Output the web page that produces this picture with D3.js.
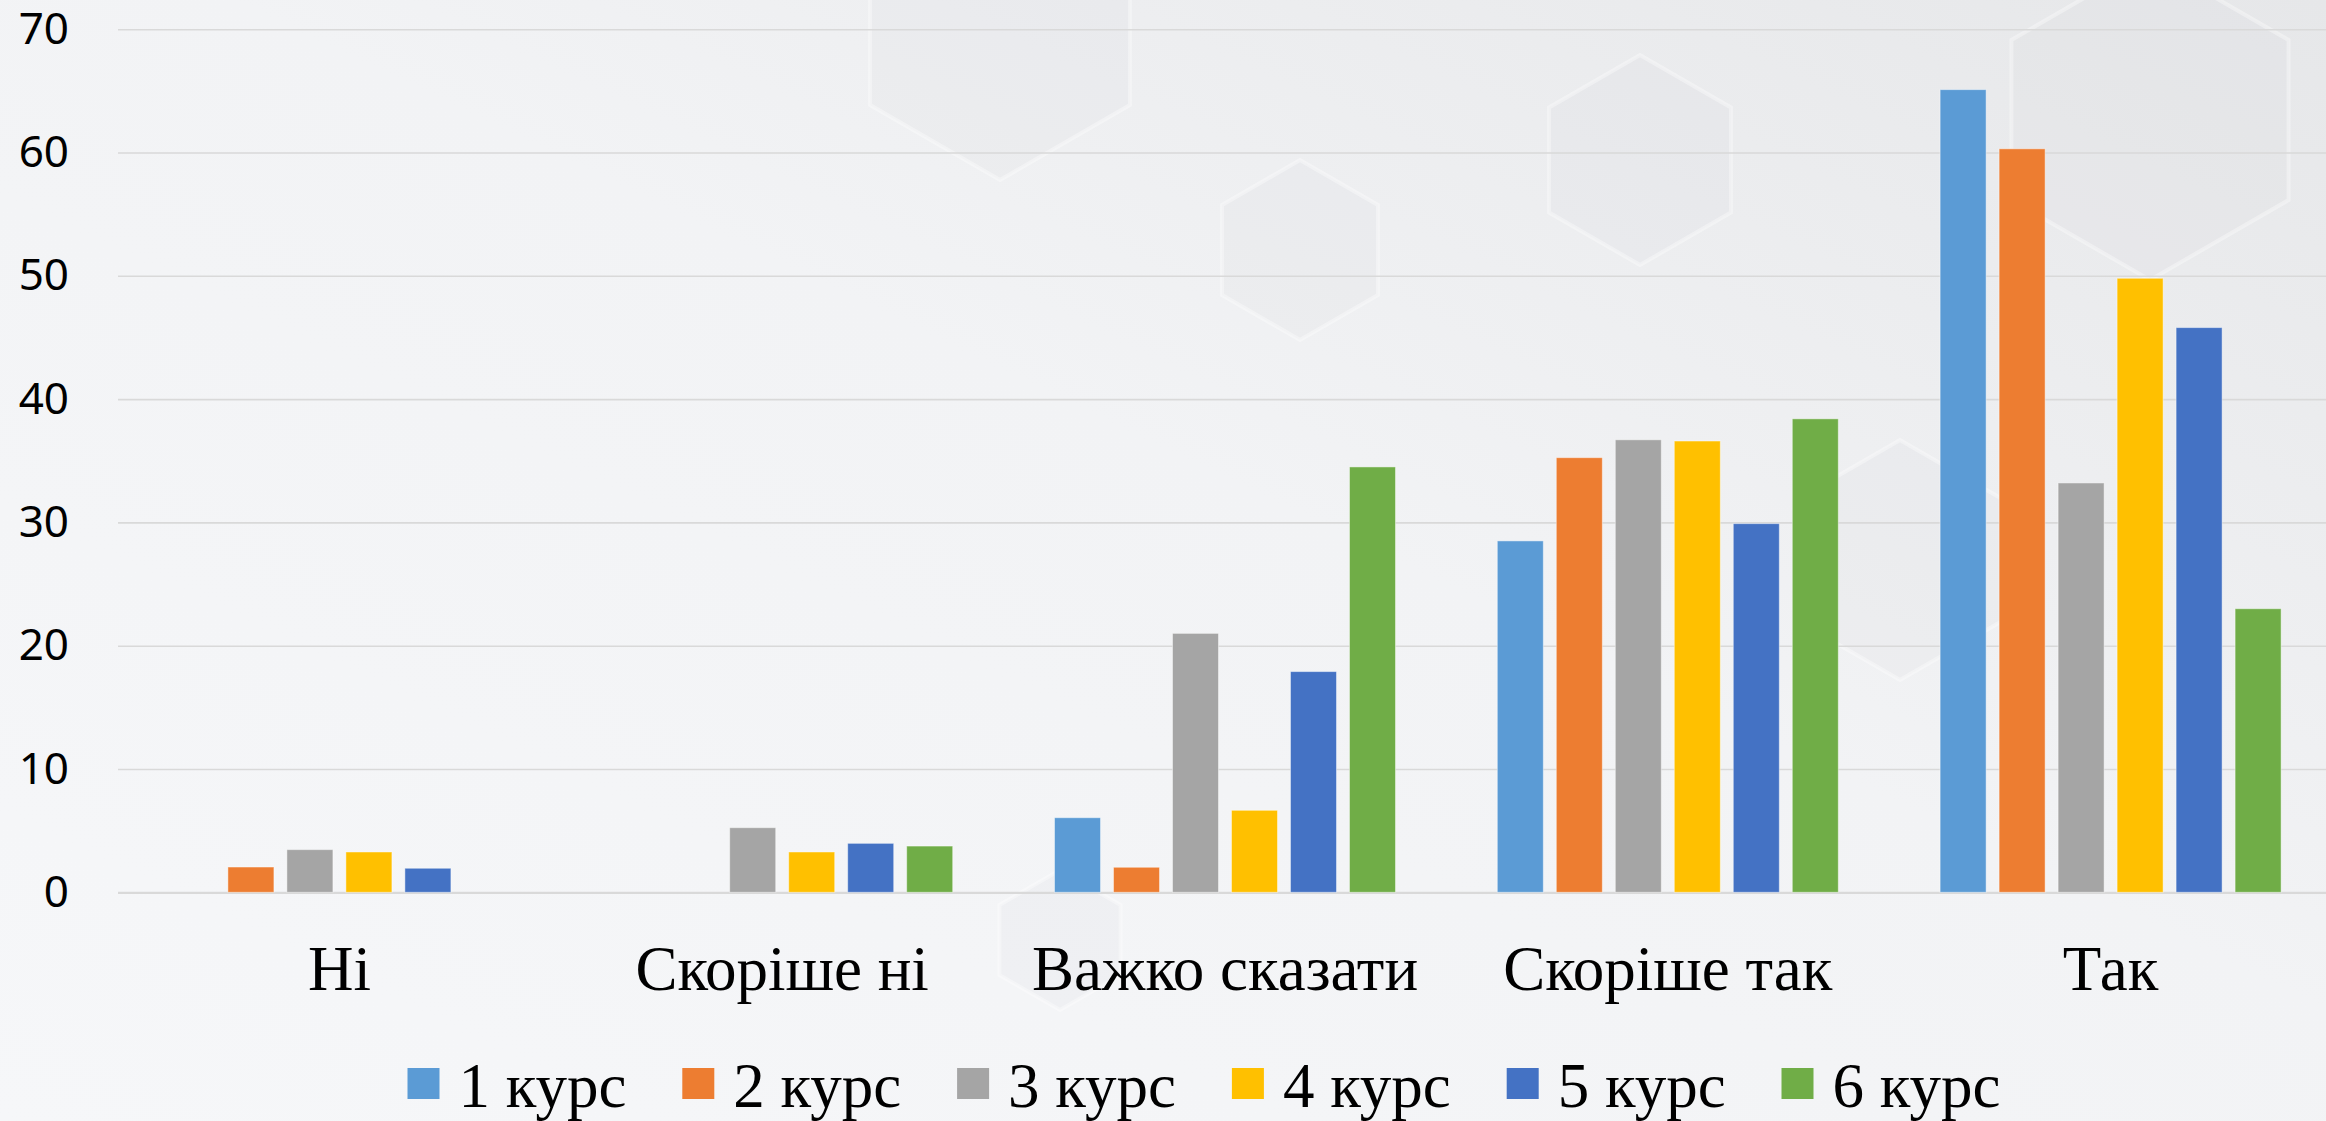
<!DOCTYPE html>
<html>
<head>
<meta charset="utf-8">
<script src="https://cdnjs.cloudflare.com/ajax/libs/d3/7.8.5/d3.min.js"></script>
<style>
    html, body { margin: 0; padding: 0; overflow: hidden; background: #f4f5f7; }
    svg { display: block; }
</style>
</head>
<body>
<svg id="chart" width="2326" height="1121"></svg>
<script>
/*global d3*/
(function () {
    "use strict";

    // data
    var categories = ["Ні", "Скоріше ні", "Важко сказати", "Скоріше так", "Так"];
    var seriesNames = ["1 курс", "2 курс", "3 курс", "4 курс", "5 курс", "6 курс"];
    var kurs1 = [0, 0, 6.05, 28.5, 65.1];
    var kurs2 = [2.05, 0, 2.03, 35.25, 60.3];
    var kurs3 = [3.46, 5.24, 21.0, 36.7, 33.2];
    var kurs4 = [3.27, 3.27, 6.65, 36.6, 49.8];
    var kurs5 = [1.95, 3.97, 17.9, 29.9, 45.8];
    var kurs6 = [0, 3.75, 34.5, 38.4, 23.0];
    var yTicks = [0, 10, 20, 30, 40, 50, 60, 70];

    var seriesValues = [kurs1, kurs2, kurs3, kurs4, kurs5, kurs6];
    var colors = ["#5b9bd5", "#ed7d31", "#a5a5a5", "#ffc000", "#4472c4", "#70ad47"];

    var W = 2326, H = 1121;
    var plot = { left: 118, right: 2332, top: 29.2, bottom: 892.3 };

    var svg = d3.select("#chart");

    // background
    var defs = svg.append("defs");
    var grad = defs.append("linearGradient")
        .attr("id", "bg").attr("x1", "0").attr("y1", "1").attr("x2", "1").attr("y2", "0");
    grad.append("stop").attr("offset", "0").attr("stop-color", "#f6f7f9");
    grad.append("stop").attr("offset", "0.55").attr("stop-color", "#f2f3f5");
    grad.append("stop").attr("offset", "1").attr("stop-color", "#e6e7e9");
    svg.append("rect").attr("width", W).attr("height", H).attr("fill", "url(#bg)");

    // faint hexagon decoration
    var hexes = [[1000, 30, 150], [1640, 160, 105], [1300, 250, 90], [2150, 120, 160], [1900, 560, 120], [1060, 940, 70]];
    var hexPath = function (cx, cy, r) {
        return d3.range(6).map(function (i) {
            var a = Math.PI / 3 * i + Math.PI / 6;
            return (i ? "L" : "M") + (cx + r * Math.cos(a)) + "," + (cy + r * Math.sin(a));
        }).join("") + "Z";
    };
    svg.append("g").selectAll("path").data(hexes).join("path")
        .attr("d", function (d) { return hexPath(d[0], d[1], d[2]); })
        .attr("fill", "#d5d6d9").attr("fill-opacity", 0.14)
        .attr("stroke", "#ffffff").attr("stroke-opacity", 0.35).attr("stroke-width", 4);

    var x0 = d3.scaleBand().domain(categories).range([plot.left, plot.right]).padding(0);
    var groupW = 341;
    var x1 = d3.scaleBand().domain(seriesNames)
        .range([(x0.bandwidth() - groupW) / 2, (x0.bandwidth() + groupW) / 2])
        .paddingInner(0.22).paddingOuter(0);
    var y = d3.scaleLinear().domain([0, 70]).range([plot.bottom, plot.top]);

    // gridlines + y labels
    var yAxis = svg.append("g")
        .attr("transform", "translate(" + plot.left + ",0)")
        .call(d3.axisLeft(y).tickValues(yTicks).tickSize(-(W - plot.left)).tickPadding(49));
    yAxis.select(".domain").remove();
    yAxis.selectAll(".tick line")
        .attr("stroke", "#d9d9d9")
        .attr("stroke-width", function (d) { return d === 0 ? 2.2 : 1.6; });
    yAxis.selectAll(".tick text")
        .attr("fill", "#000")
        .style("font-family", "'Noto Sans', 'Open Sans', sans-serif")
        .style("font-size", "44px");

    // bars
    var rows = categories.map(function (c, i) {
        return { cat: c, vals: seriesNames.map(function (s, j) { return { s: s, v: seriesValues[j][i], k: j }; }) };
    });
    svg.append("g").selectAll("g").data(rows).join("g")
        .attr("transform", function (d) { return "translate(" + x0(d.cat) + ",0)"; })
        .selectAll("rect")
        .data(function (d) { return d.vals.filter(function (e) { return e.v > 0; }); })
        .join("rect")
        .attr("x", function (d) { return x1(d.s); })
        .attr("y", function (d) { return y(d.v); })
        .attr("width", x1.bandwidth())
        .attr("height", function (d) { return y(0) - y(d.v); })
        .attr("fill", function (d) { return colors[d.k]; })
        .attr("stroke", "#ffffff").attr("stroke-opacity", 0.45).attr("stroke-width", 1);

    // category labels
    svg.append("g").selectAll("text").data(categories).join("text")
        .attr("x", function (d) { return x0(d) + x0.bandwidth() / 2; })
        .attr("y", 990)
        .attr("text-anchor", "middle")
        .style("font-family", "'Liberation Serif', 'Times New Roman', serif")
        .style("font-size", "63px")
        .attr("fill", "#000")
        .text(function (d) { return d; });

    // legend
    var legend = svg.append("g").selectAll("g").data(seriesNames).join("g")
        .attr("transform", function (d, i) { return "translate(" + (407.5 + i * 274.8) + ",1068)"; });
    legend.append("rect")
        .attr("width", 32).attr("height", 31)
        .attr("fill", function (d, i) { return colors[i]; });
    legend.append("text")
        .attr("x", 51).attr("y", 39)
        .style("font-family", "'Liberation Serif', 'Times New Roman', serif")
        .style("font-size", "63px")
        .attr("fill", "#000")
        .text(function (d) { return d; });
}());
</script>
</body>
</html>
